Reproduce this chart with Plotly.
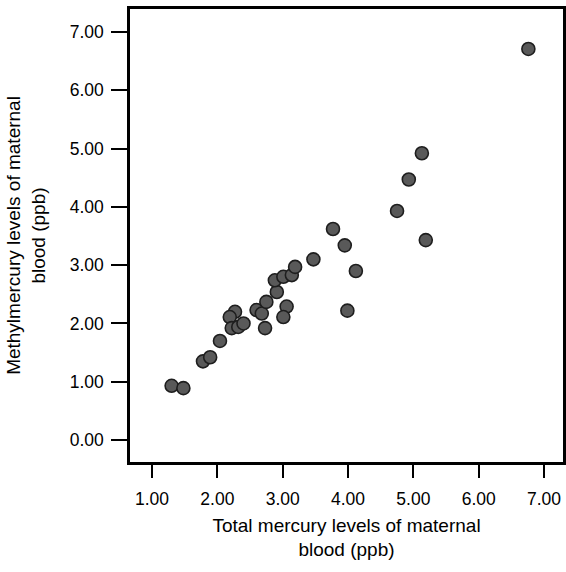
import plotly.graph_objects as go

total_hg = [1.30, 1.48, 1.78, 1.89, 2.04, 2.27, 2.19, 2.22, 2.32, 2.40, 2.60, 2.68, 2.73,
            2.75, 2.91, 2.88, 3.01, 3.14, 3.19, 3.06, 3.01, 3.47, 3.77, 3.95, 4.12, 3.99,
            4.75, 4.93, 5.13, 5.19, 6.76]
methyl_hg = [0.93, 0.89, 1.35, 1.42, 1.70, 2.20, 2.11, 1.92, 1.94, 2.00, 2.23, 2.17, 1.92,
             2.37, 2.54, 2.74, 2.80, 2.83, 2.97, 2.29, 2.11, 3.10, 3.62, 3.34, 2.90, 2.22,
             3.93, 4.47, 4.92, 3.43, 6.71]
tick_vals = [0, 1, 2, 3, 4, 5, 6, 7]
tick_text = ["0.00", "1.00", "2.00", "3.00", "4.00", "5.00", "6.00", "7.00"]

font_family = "Liberation Sans, Arial, sans-serif"

fig = go.Figure(go.Scatter(
    x=total_hg, y=methyl_hg, mode="markers",
    marker=dict(size=13, color="#595959", line=dict(color="#1e1e1e", width=1.6)),
))

fig.update_layout(
    width=566, height=572,
    margin=dict(l=130, r=3, t=9, b=110),
    plot_bgcolor="white", paper_bgcolor="white",
    showlegend=False,
    font=dict(family=font_family, size=16, color="black"),
)
fig.update_xaxes(
    range=[0.663, 7.29], tickvals=tick_vals[1:], ticktext=tick_text[1:],
    showgrid=False, zeroline=False, showline=True, linecolor="black", linewidth=2.5,
    mirror=True, ticks="outside", ticklen=13, tickwidth=2, tickcolor="black",
    tickfont=dict(size=17.5), automargin=False, ticklabelstandoff=6,
    title=dict(text="Total mercury levels of maternal<br>blood (ppb)", standoff=11),
)
fig.update_yaxes(
    range=[-0.377, 7.395], tickvals=tick_vals, ticktext=tick_text,
    showgrid=False, zeroline=False, showline=True, linecolor="black", linewidth=2.5,
    mirror=True, ticks="outside", ticklen=16, tickwidth=2, tickcolor="black",
    tickfont=dict(size=17.5), automargin=False, ticklabelstandoff=4,
    title=dict(text="Methylmercury levels of maternal<br>blood (ppb)", standoff=20),
)
# remove the browser's default 8px page margin so the full figure fits the window
fig.write_html("out.html", config={"displayModeBar": False},
               post_script="document.body.style.margin='0';")
